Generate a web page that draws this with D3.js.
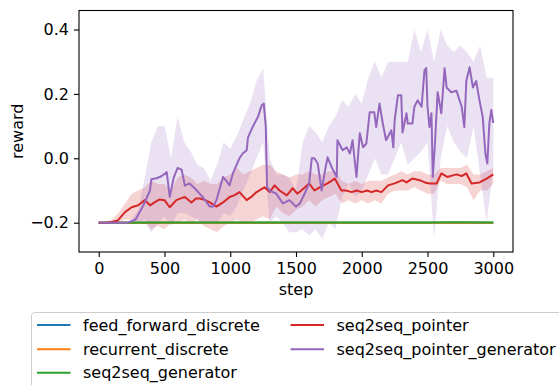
<!DOCTYPE html>
<html>
<head>
<meta charset="utf-8">
<script src="https://cdn.jsdelivr.net/npm/d3@7"></script>
<style>
  body { margin: 0; background: #fff; }
  svg { display: block; font-family: "DejaVu Sans", sans-serif; }
</style>
</head>
<body>
<div id="chart"></div>
<script>
//// data
var seriesNames = ["feed_forward_discrete", "recurrent_discrete", "seq2seq_generator",
                   "seq2seq_pointer", "seq2seq_pointer_generator"];
var seriesColors = ["#1f77b4", "#ff7f0e", "#2ca02c", "#d62728", "#9467bd"];

var xTicks = [0, 500, 1000, 1500, 2000, 2500, 3000];
var yTicks = [-0.2, 0.0, 0.2, 0.4];

// flat runs, [step, reward]
var feedForward = [[0, -0.2], [1000, -0.2], [2000, -0.2], [3000, -0.2]];
var recurrent = [[0, -0.2005], [1000, -0.2005], [2000, -0.2005], [3000, -0.2005]];
var generator = [[0, -0.2], [500, -0.199], [1000, -0.1995], [1500, -0.199],
                 [2000, -0.1995], [2500, -0.199], [2700, -0.1985], [3000, -0.199]];

// seq2seq_pointer mean, [step, reward]
var pointer = [
  [0,-0.2],[45,-0.2],[100,-0.198],[145,-0.193],[200,-0.167],[250,-0.152],[300,-0.146],
  [350,-0.13],[390,-0.146],[425,-0.137],[460,-0.128],[500,-0.13],[540,-0.152],[590,-0.13],
  [655,-0.12],[705,-0.137],[740,-0.125],[770,-0.125],[810,-0.13],[845,-0.137],[895,-0.15],
  [945,-0.137],[995,-0.12],[1030,-0.115],[1070,-0.105],[1125,-0.13],[1160,-0.12],
  [1200,-0.105],[1260,-0.09],[1300,-0.105],[1337,-0.084],[1375,-0.1],[1430,-0.115],
  [1475,-0.093],[1510,-0.11],[1540,-0.1],[1600,-0.078],[1640,-0.1],[1680,-0.09],
  [1740,-0.078],[1795,-0.063],[1845,-0.1],[1880,-0.1],[1925,-0.105],[1960,-0.1],
  [2000,-0.105],[2040,-0.1],[2075,-0.105],[2110,-0.1],[2150,-0.105],[2200,-0.084],
  [2250,-0.078],[2310,-0.068],[2340,-0.075],[2385,-0.063],[2440,-0.068],[2480,-0.075],
  [2515,-0.078],[2570,-0.078],[2605,-0.047],[2650,-0.058],[2720,-0.05],[2760,-0.055],
  [2795,-0.047],[2835,-0.078],[2895,-0.075],[2950,-0.063],[3000,-0.05]
];

// seq2seq_pointer_generator mean, [step, reward]
var pointerGen = [
  [0,-0.2],[220,-0.2],[280,-0.19],[335,-0.15],[390,-0.1],[400,-0.065],[440,-0.062],
  [480,-0.055],[517,-0.043],[540,-0.12],[570,-0.06],[600,-0.03],[630,-0.035],[655,-0.085],
  [690,-0.078],[730,-0.093],[790,-0.12],[845,-0.15],[870,-0.15],[895,-0.13],[945,-0.058],
  [970,-0.07],[995,-0.084],[1020,-0.047],[1070,0.0],[1095,0.015],[1125,0.025],[1135,0.065],
  [1170,0.097],[1210,0.128],[1240,0.165],[1255,0.17],[1270,0.1],[1280,-0.09],[1300,-0.1],
  [1350,-0.11],[1400,-0.14],[1450,-0.13],[1500,-0.15],[1530,-0.14],[1565,-0.11],
  [1600,-0.078],[1620,0.0],[1640,0.0],[1665,-0.016],[1695,-0.1],[1720,-0.04],[1740,0.003],
  [1770,-0.027],[1810,-0.058],[1815,0.056],[1855,0.025],[1885,0.034],[1910,0.015],
  [1930,0.056],[1960,-0.058],[1985,0.078],[2010,0.034],[2035,0.046],[2060,0.143],
  [2095,0.143],[2110,0.097],[2135,0.17],[2160,0.108],[2185,0.056],[2225,0.087],
  [2240,0.034],[2250,0.118],[2275,0.196],[2300,0.196],[2310,0.08],[2340,0.14],
  [2350,0.108],[2385,0.108],[2400,0.16],[2425,0.18],[2455,0.16],[2477,0.273],[2490,0.28],
  [2500,0.16],[2515,0.097],[2530,0.14],[2540,-0.058],[2555,0.035],[2577,0.205],
  [2605,0.14],[2630,0.28],[2645,0.22],[2680,0.205],[2720,0.21],[2760,0.16],[2780,0.097],
  [2795,0.24],[2820,0.283],[2845,0.22],[2870,0.24],[2895,0.18],[2920,0.128],[2940,0.015],
  [2955,-0.016],[2970,0.108],[2985,0.15],[3000,0.11]
];

// shaded spread, one value every 50 steps (0..3000)
var bandSteps = d3.range(0, 3001, 50);
var pointerUpper = [-0.2,-0.2,-0.19,-0.17,-0.14,-0.11,-0.1,-0.09,-0.07,-0.08,-0.08,-0.1,-0.06,
  -0.05,-0.06,-0.08,-0.07,-0.08,-0.08,-0.06,-0.05,-0.03,-0.05,-0.04,-0.03,-0.02,-0.02,-0.04,
  -0.05,-0.06,-0.05,-0.05,-0.04,-0.05,-0.05,-0.04,-0.04,-0.07,-0.08,-0.07,-0.08,-0.07,-0.07,
  -0.07,-0.06,-0.05,-0.04,-0.05,-0.04,-0.04,-0.05,-0.05,-0.03,-0.03,-0.03,-0.03,-0.02,-0.05,
  -0.05,-0.04,-0.03];
var pointerLower = [-0.2,-0.2,-0.2,-0.2,-0.19,-0.19,-0.2,-0.19,-0.22,-0.21,-0.22,-0.2,-0.2,
  -0.19,-0.2,-0.19,-0.21,-0.22,-0.23,-0.21,-0.2,-0.19,-0.2,-0.2,-0.19,-0.18,-0.19,-0.15,
  -0.17,-0.18,-0.16,-0.15,-0.13,-0.15,-0.13,-0.12,-0.11,-0.14,-0.13,-0.14,-0.13,-0.14,-0.13,
  -0.14,-0.11,-0.1,-0.1,-0.1,-0.09,-0.1,-0.11,-0.11,-0.07,-0.08,-0.08,-0.08,-0.09,-0.13,
  -0.1,-0.1,-0.08];
var pointerGenUpper = [-0.2,-0.2,-0.2,-0.2,-0.2,-0.19,-0.16,-0.06,0.05,0.1,0.1,0.0,0.13,0.05,
  0.02,-0.02,-0.03,-0.07,-0.02,0.05,0.03,0.07,0.12,0.17,0.24,0.28,0.0,-0.05,-0.05,-0.06,
  -0.1,0.05,0.1,0.08,0.05,0.1,0.13,0.18,0.16,0.2,0.17,0.25,0.3,0.25,0.3,0.3,0.3,0.3,0.4,
  0.33,0.4,0.3,0.4,0.35,0.33,0.35,0.33,0.3,0.35,0.25,0.25];
var pointerGenLower = [-0.2,-0.2,-0.2,-0.2,-0.2,-0.2,-0.2,-0.2,-0.23,-0.2,-0.18,-0.21,-0.17,
  -0.17,-0.18,-0.19,-0.2,-0.2,-0.2,-0.17,-0.18,-0.15,-0.1,-0.05,0.0,0.05,-0.2,-0.18,-0.2,
  -0.23,-0.23,-0.22,-0.24,-0.22,-0.25,-0.2,-0.22,-0.12,-0.08,-0.12,-0.1,-0.05,0.0,-0.05,
  -0.05,0.0,0.05,-0.02,0.0,0.02,0.05,-0.25,0.0,0.1,0.05,0.02,0.0,0.1,-0.05,-0.2,-0.03];

//// chart
var W = 559, H = 385;
var plot = {left: 79, top: 10.5, right: 513, bottom: 252};
var fontSize = "16px";

var svg = d3.select("#chart")
  .append("svg")
    .attr("width", W)
    .attr("height", H);

var x = d3.scaleLinear()
  .domain([-150, 3150])
  .range([plot.left, plot.right]);

var y = d3.scaleLinear()
  .domain([-0.291, 0.459])
  .range([plot.bottom, plot.top]);

svg.append("clipPath").attr("id", "clip")
  .append("rect")
    .attr("x", plot.left).attr("y", plot.top)
    .attr("width", plot.right - plot.left)
    .attr("height", plot.bottom - plot.top);

var body = svg.append("g").attr("clip-path", "url(#clip)");

//// bands
var area = d3.area()
  .x(function(d) { return x(d[0]); })
  .y0(function(d) { return y(d[1]); })
  .y1(function(d) { return y(d[2]); });

function bandRows(lower, upper) {
  return bandSteps.map(function(s, i) { return [s, lower[i], upper[i]]; });
}

body.append("path")
  .datum(bandRows(pointerLower, pointerUpper))
  .attr("d", area)
  .attr("fill", seriesColors[3])
  .attr("fill-opacity", 0.2);

body.append("path")
  .datum(bandRows(pointerGenLower, pointerGenUpper))
  .attr("d", area)
  .attr("fill", seriesColors[4])
  .attr("fill-opacity", 0.2);

//// lines
var line = d3.line()
  .x(function(d) { return x(d[0]); })
  .y(function(d) { return y(d[1]); });

[feedForward, recurrent, generator, pointer, pointerGen].forEach(function(s, i) {
  body.append("path")
    .datum(s)
    .attr("d", line)
    .attr("fill", "none")
    .attr("stroke", seriesColors[i])
    .attr("stroke-width", 2)
    .attr("stroke-linejoin", "round");
});

//// axes
var fmt = function(d) { return d3.format(".1f")(d).replace("-", "\u2212"); };

var xAxis = svg.append("g")
  .attr("transform", "translate(0," + plot.bottom + ")")
  .call(d3.axisBottom(x).tickValues(xTicks).tickSize(5).tickPadding(6).tickFormat(d3.format("d")));

var yAxis = svg.append("g")
  .attr("transform", "translate(" + plot.left + ",0)")
  .call(d3.axisLeft(y).tickValues(yTicks).tickSize(5).tickPadding(5).tickFormat(fmt));

[xAxis, yAxis].forEach(function(a) {
  a.select(".domain").remove();
  a.selectAll("line").attr("stroke", "#000").attr("stroke-width", 1.1);
  a.selectAll("text")
    .attr("fill", "#000")
    .style("font-size", fontSize)
    .style("font-family", "DejaVu Sans");
});

// frame
svg.append("rect")
  .attr("x", plot.left).attr("y", plot.top)
  .attr("width", plot.right - plot.left)
  .attr("height", plot.bottom - plot.top)
  .attr("fill", "none")
  .attr("stroke", "#000")
  .attr("stroke-width", 1.1);

svg.append("text")
  .attr("x", (plot.left + plot.right) / 2)
  .attr("y", 295)
  .attr("text-anchor", "middle")
  .style("font-size", fontSize)
  .text("step");

svg.append("text")
  .attr("transform", "translate(23," + (plot.top + plot.bottom) / 2 + ") rotate(-90)")
  .attr("text-anchor", "middle")
  .style("font-size", fontSize)
  .text("reward");

//// legend
var legend = svg.append("g");

legend.append("rect")
  .attr("x", 31.5).attr("y", 312.5)
  .attr("width", 560).attr("height", 90)
  .attr("rx", 3)
  .attr("fill", "#fff")
  .attr("fill-opacity", 0.8)
  .attr("stroke", "#ccc")
  .attr("stroke-width", 1);

var cols = [37, 290.5];
var rows = [325, 349.3, 372.7];

seriesNames.forEach(function(name, i) {
  var cx = cols[Math.floor(i / 3)], cy = rows[i % 3];
  legend.append("line")
    .attr("x1", cx).attr("x2", cx + 33.5)
    .attr("y1", cy).attr("y2", cy)
    .attr("stroke", seriesColors[i])
    .attr("stroke-width", 2);
  legend.append("text")
    .attr("x", cx + 46)
    .attr("y", cy)
    .attr("dy", "0.35em")
    .style("font-size", fontSize)
    .text(name);
});
</script>
</body>
</html>
